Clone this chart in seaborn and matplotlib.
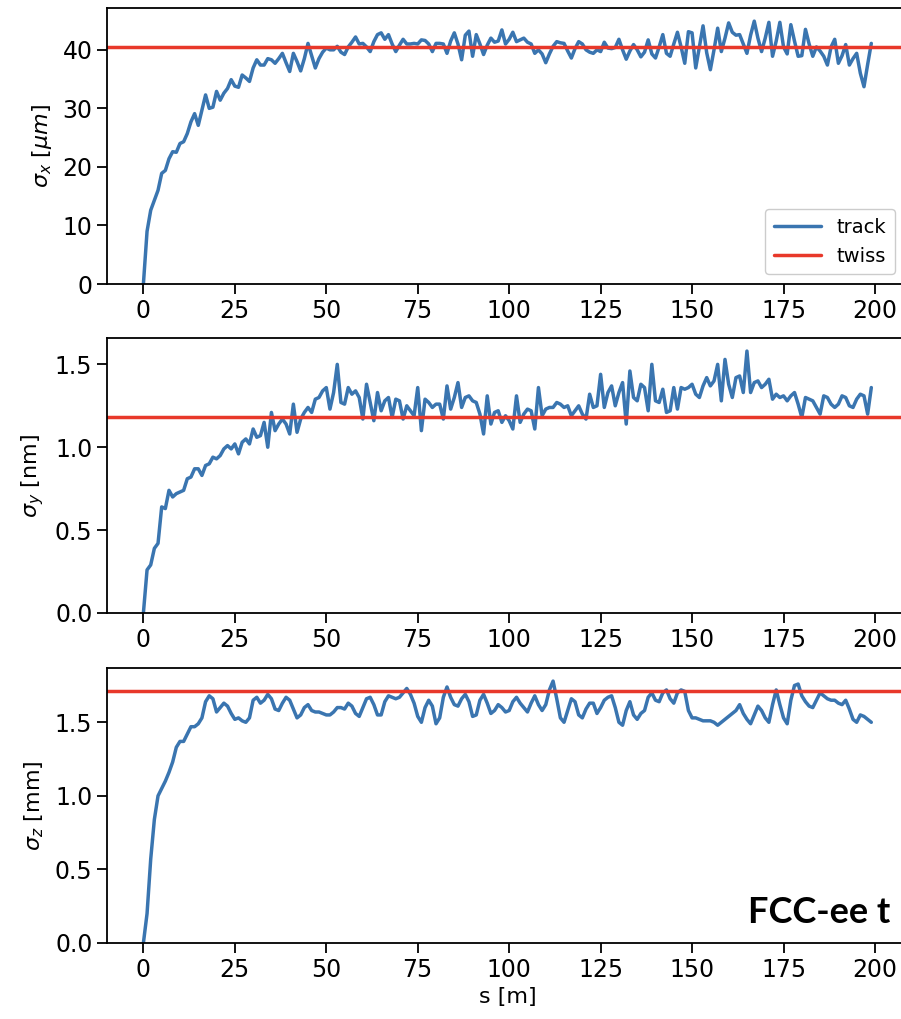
import numpy as np
import pandas as pd
import matplotlib
matplotlib.use("Agg")
import matplotlib.pyplot as plt
import seaborn as sns

# ---------------- data ----------------
s_m = list(range(200))

sigma_x_um = [
    0.0, 9.0, 12.6, 14.3, 16.0, 18.9, 19.4, 21.4, 22.6, 22.5,
    24.0, 24.3, 25.7, 27.7, 29.1, 27.1, 29.7, 32.3, 30.0, 30.2,
    32.9, 31.4, 32.6, 33.4, 34.9, 33.8, 33.6, 35.7, 35.2, 34.6,
    36.9, 38.3, 37.4, 37.4, 38.5, 38.3, 37.7, 38.5, 39.4, 37.8,
    36.3, 39.4, 38.0, 36.4, 38.5, 41.1, 39.0, 36.9, 38.5, 39.6,
    40.3, 40.0, 40.0, 40.6, 39.6, 39.2, 40.5, 41.3, 42.2, 41.0,
    41.1, 40.5, 39.7, 41.4, 42.6, 42.9, 41.8, 42.6, 41.0, 39.7,
    40.8, 41.8, 41.0, 41.0, 41.1, 41.0, 41.7, 41.6, 41.0, 39.7,
    41.1, 41.1, 41.0, 39.4, 41.5, 42.9, 41.0, 38.3, 42.5, 43.2,
    38.9, 42.6, 41.0, 39.2, 40.8, 42.0, 41.3, 41.5, 43.4, 41.0,
    41.8, 43.0, 41.4, 41.7, 42.0, 41.3, 41.0, 39.4, 40.0, 39.3,
    37.8, 39.3, 40.6, 41.4, 41.2, 41.1, 39.8, 38.6, 40.2, 41.4,
    41.0, 40.0, 39.6, 39.4, 40.0, 39.7, 41.3, 40.3, 40.2, 40.4,
    41.8, 40.0, 38.4, 39.8, 40.9, 40.0, 38.8, 39.6, 41.7, 39.3,
    38.6, 40.5, 42.6, 39.4, 38.9, 41.0, 43.0, 40.5, 37.7, 43.1,
    42.9, 36.9, 40.5, 44.1, 39.5, 36.6, 40.0, 43.7, 39.7, 42.0,
    44.6, 43.0, 42.5, 42.6, 41.0, 39.4, 42.5, 44.9, 42.0, 39.7,
    42.0, 44.7, 38.9, 41.5, 44.7, 40.5, 39.3, 44.3, 41.5, 38.9,
    39.0, 43.5, 41.0, 38.9, 40.5, 39.8, 38.9, 37.4, 40.5, 41.8,
    37.7, 39.0, 40.9, 37.4, 38.5, 39.4, 36.0, 33.7, 37.5, 41.1,
]

sigma_y_nm = [
    0.00, 0.26, 0.29, 0.39, 0.42, 0.64, 0.63, 0.74, 0.70, 0.72,
    0.73, 0.74, 0.81, 0.82, 0.87, 0.87, 0.83, 0.89, 0.90, 0.94,
    0.93, 0.95, 0.99, 1.01, 0.99, 1.02, 0.96, 1.03, 1.05, 1.02,
    1.11, 1.06, 1.07, 1.15, 1.00, 1.21, 1.10, 1.14, 1.17, 1.14,
    1.08, 1.26, 1.09, 1.17, 1.21, 1.24, 1.21, 1.29, 1.30, 1.34,
    1.36, 1.23, 1.33, 1.50, 1.27, 1.26, 1.36, 1.32, 1.34, 1.30,
    1.17, 1.38, 1.27, 1.16, 1.33, 1.22, 1.28, 1.30, 1.18, 1.29,
    1.28, 1.17, 1.25, 1.22, 1.19, 1.36, 1.10, 1.29, 1.27, 1.24,
    1.26, 1.26, 1.17, 1.37, 1.23, 1.30, 1.39, 1.24, 1.30, 1.31,
    1.28, 1.27, 1.20, 1.08, 1.31, 1.14, 1.21, 1.22, 1.15, 1.19,
    1.16, 1.11, 1.31, 1.15, 1.20, 1.23, 1.22, 1.11, 1.36, 1.19,
    1.23, 1.24, 1.24, 1.27, 1.26, 1.24, 1.25, 1.19, 1.22, 1.25,
    1.20, 1.17, 1.32, 1.24, 1.25, 1.44, 1.24, 1.33, 1.37, 1.25,
    1.33, 1.39, 1.14, 1.46, 1.30, 1.28, 1.38, 1.36, 1.22, 1.50,
    1.28, 1.27, 1.35, 1.21, 1.22, 1.36, 1.23, 1.36, 1.35, 1.36,
    1.38, 1.32, 1.30, 1.37, 1.42, 1.37, 1.40, 1.50, 1.28, 1.53,
    1.38, 1.30, 1.42, 1.43, 1.33, 1.58, 1.33, 1.39, 1.40, 1.36,
    1.38, 1.41, 1.29, 1.32, 1.30, 1.31, 1.28, 1.31, 1.33, 1.26,
    1.18, 1.30, 1.29, 1.28, 1.24, 1.20, 1.31, 1.30, 1.26, 1.24,
    1.26, 1.31, 1.30, 1.25, 1.24, 1.29, 1.32, 1.31, 1.20, 1.36,
]

sigma_z_mm = [
    0.00, 0.20, 0.57, 0.84, 1.00, 1.05, 1.10, 1.16, 1.23, 1.33,
    1.37, 1.37, 1.42, 1.47, 1.47, 1.49, 1.53, 1.64, 1.68, 1.66,
    1.57, 1.60, 1.63, 1.61, 1.56, 1.52, 1.53, 1.51, 1.50, 1.53,
    1.65, 1.67, 1.63, 1.65, 1.69, 1.66, 1.59, 1.58, 1.63, 1.67,
    1.65, 1.59, 1.53, 1.55, 1.60, 1.62, 1.58, 1.57, 1.57, 1.56,
    1.55, 1.55, 1.57, 1.60, 1.60, 1.59, 1.63, 1.61, 1.56, 1.54,
    1.60, 1.66, 1.67, 1.62, 1.55, 1.55, 1.64, 1.68, 1.67, 1.66,
    1.67, 1.70, 1.73, 1.69, 1.63, 1.54, 1.50, 1.60, 1.65, 1.61,
    1.49, 1.53, 1.67, 1.74, 1.67, 1.62, 1.61, 1.66, 1.69, 1.64,
    1.54, 1.55, 1.65, 1.69, 1.63, 1.56, 1.58, 1.62, 1.60, 1.57,
    1.58, 1.64, 1.67, 1.63, 1.60, 1.57, 1.63, 1.68, 1.62, 1.58,
    1.62, 1.72, 1.78, 1.66, 1.53, 1.50, 1.58, 1.66, 1.64, 1.55,
    1.53, 1.59, 1.63, 1.63, 1.56, 1.60, 1.65, 1.67, 1.68, 1.60,
    1.50, 1.48, 1.58, 1.64, 1.55, 1.52, 1.56, 1.58, 1.67, 1.70,
    1.65, 1.64, 1.70, 1.72, 1.66, 1.63, 1.70, 1.72, 1.71, 1.58,
    1.53, 1.53, 1.52, 1.51, 1.51, 1.51, 1.50, 1.48, 1.50, 1.52,
    1.54, 1.56, 1.58, 1.62, 1.56, 1.52, 1.49, 1.55, 1.61, 1.58,
    1.53, 1.50, 1.62, 1.72, 1.62, 1.53, 1.49, 1.65, 1.75, 1.76,
    1.68, 1.64, 1.61, 1.60, 1.65, 1.70, 1.68, 1.66, 1.65, 1.65,
    1.63, 1.62, 1.65, 1.59, 1.52, 1.50, 1.55, 1.54, 1.52, 1.50,
]

twiss_values = [40.45, 1.184, 1.711]
y_labels = [r"$\sigma_x$ [$\mu m$]", r"$\sigma_y$ [nm]", r"$\sigma_z$ [mm]"]
y_ticks = [[0, 10, 20, 30, 40], [0.0, 0.5, 1.0, 1.5], [0.0, 0.5, 1.0, 1.5]]
x_ticks = [0, 25, 50, 75, 100, 125, 150, 175, 200]
legend_labels = ["track", "twiss"]
annotation = "FCC-ee t"

# ---------------- style ----------------
sns.set_theme(style="ticks")
plt.rcParams.update({
    "font.family": ["DejaVu Sans"],
    "axes.linewidth": 1.3,
    "xtick.major.size": 7,
    "ytick.major.size": 7,
    "xtick.major.width": 1.3,
    "ytick.major.width": 1.3,
    "xtick.labelsize": 17,
    "ytick.labelsize": 17,
    "axes.labelsize": 16,
    "axes.edgecolor": "black",
    "axes.labelcolor": "black",
    "text.color": "black",
    "xtick.color": "black",
    "ytick.color": "black",
})

BLUE = "#3a75b0"
RED = "#e8382a"

W, H = 901, 1019
fig = plt.figure(figsize=(W / 100, H / 100), dpi=100)

left = 107 / W
width = (907.7 - 107) / W
panels_px = [(8, 284), (338, 613), (668, 943)]

series = [sigma_x_um, sigma_y_nm, sigma_z_mm]
axes = []
for i, (top, bot) in enumerate(panels_px):
    ax = fig.add_axes([left, 1 - bot / H, width, (bot - top) / H])
    df = pd.DataFrame({"s": s_m, "val": series[i]})
    sns.lineplot(data=df, x="s", y="val", ax=ax, color=BLUE, lw=2.5,
                 label=legend_labels[0] if i == 0 else None, legend=False)
    ax.axhline(twiss_values[i], color=RED, lw=2.5,
               label=legend_labels[1] if i == 0 else None)
    ax.set_ylim(bottom=0)
    ax.set_xticks(x_ticks)
    ax.set_yticks(y_ticks[i])
    ax.set_ylabel(y_labels[i], labelpad=6)
    ax.set_xlabel("")
    for sp in ax.spines.values():
        sp.set_visible(True)
    axes.append(ax)

axes[-1].set_xlabel("s [m]", fontsize=16)
axes[0].legend(loc="lower right", bbox_to_anchor=(0.996, 0.0), fontsize=14,
               frameon=True, handlelength=2.4, borderpad=0.45,
               framealpha=1, edgecolor="#cccccc")

axes[-1].text(0.978, 0.05, annotation, transform=axes[-1].transAxes,
              ha="right", va="bottom", fontsize=26, fontweight="bold",
              family=["Lato", "DejaVu Sans"], color="black")

fig.savefig("out.png", dpi=100)
